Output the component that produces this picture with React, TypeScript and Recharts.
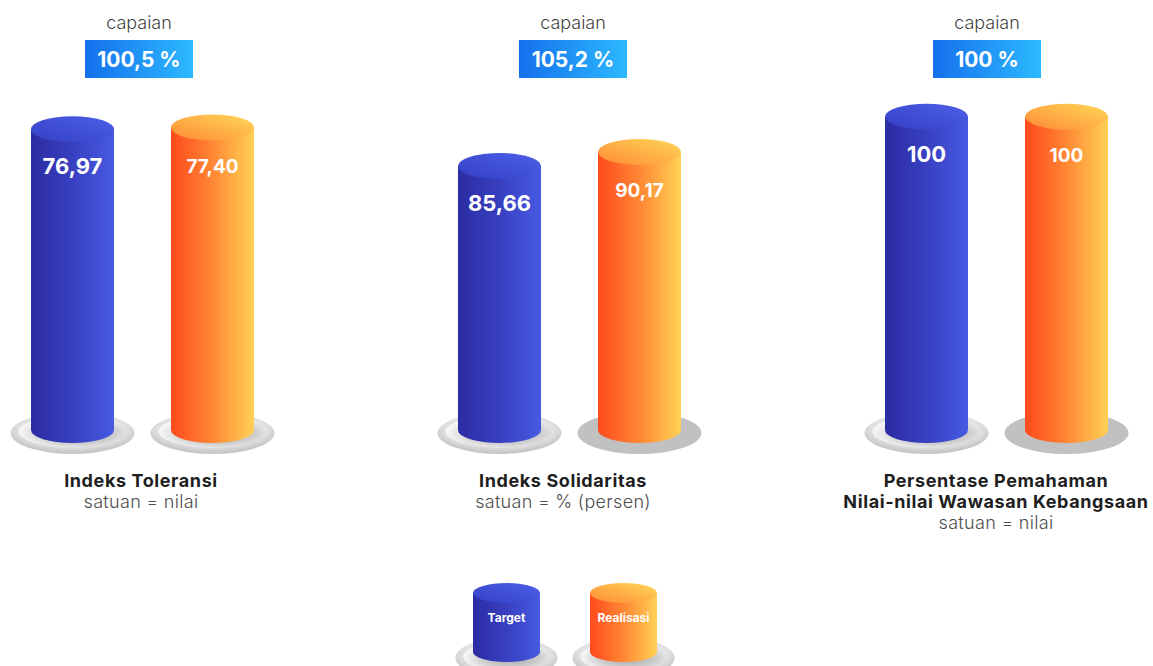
import React from "react";
import { BarChart, Bar, XAxis, YAxis, LabelList, Legend } from "recharts";

const TITLE_LINES = [
  ["Indeks Toleransi"],
  ["Indeks Solidaritas"],
  ["Persentase Pemahaman", "Nilai-nilai Wawasan Kebangsaan"],
];
const UNITS = ["satuan = nilai", "satuan = % (persen)", "satuan = nilai"];
const TARGET = [76.97, 85.66, 100];
const REALISASI = [77.4, 90.17, 100];
const CAPAIAN = [100.5, 105.2, 100];
// every indicator has its own scale in the original
const AXIS_MAX = [87, 110.3, 108.5];

const SERIES = [
  { key: "target", name: "Target", tone: "blue" as const },
  { key: "realisasi", name: "Realisasi", tone: "orange" as const },
];

// --- layout ---
const W = 1153;
const H = 666;
const CHART_W = 340;
const GROUP_CX = [141.5, 568.5, 995.5];
const CAPAIAN_DX = [-2.5, 4.5, -8.5];
const TITLE_DX = [-1, -6, 0];
// orange plates under the 2nd and 3rd group are plain grey
const FLAT_PLATE = [
  [false, false],
  [false, true],
  [false, true],
];

const BOLD_FONT = "Inter, 'Open Sans', sans-serif";
const LIGHT_FONT = "Inter, 'Open Sans', sans-serif";

type Tone = "blue" | "orange";

const fmt = (v: number) =>
  Number.isInteger(v) ? String(v) : v.toFixed(2).replace(".", ",");
const fmtPct = (v: number) =>
  (Number.isInteger(v) ? String(v) : v.toFixed(1).replace(".", ",")) + " %";

function Gradients({ id }: { id: string }) {
  return (
    <defs>
      <linearGradient id={`${id}-blue-body`} x1="0" y1="0" x2="1" y2="0">
        <stop offset="0" stopColor="#2c2ca2" />
        <stop offset="0.5" stopColor="#3840c0" />
        <stop offset="1" stopColor="#465ae3" />
      </linearGradient>
      <linearGradient id={`${id}-blue-top`} x1="0" y1="1" x2="1" y2="0">
        <stop offset="0" stopColor="#3540c4" />
        <stop offset="1" stopColor="#4b60e8" />
      </linearGradient>
      <linearGradient id={`${id}-orange-body`} x1="0" y1="0" x2="1" y2="0">
        <stop offset="0" stopColor="#ff4a1c" />
        <stop offset="0.5" stopColor="#ff8734" />
        <stop offset="1" stopColor="#ffd155" />
      </linearGradient>
      <linearGradient id={`${id}-orange-top`} x1="0" y1="1" x2="1" y2="0">
        <stop offset="0" stopColor="#ff8a35" />
        <stop offset="1" stopColor="#ffd758" />
      </linearGradient>
      <radialGradient id={`${id}-plate`} cx="0.5" cy="0.4" r="0.55">
        <stop offset="0" stopColor="#f2f2f2" />
        <stop offset="0.8" stopColor="#e0e0e0" />
        <stop offset="1" stopColor="#c8c8c8" />
      </radialGradient>
      <radialGradient id={`${id}-dish`} cx="0.56" cy="0.55" r="0.55">
        <stop offset="0" stopColor="#a8a8a8" />
        <stop offset="0.6" stopColor="#cdcdcd" />
        <stop offset="1" stopColor="#f6f6f6" />
      </radialGradient>
    </defs>
  );
}

function Plate(p: { cx: number; cy: number; rx: number; ry: number; flat: boolean; gid: string }) {
  if (p.flat) {
    return <ellipse cx={p.cx} cy={p.cy} rx={p.rx} ry={p.ry} fill="#c1c1c1" />;
  }
  return (
    <g>
      <ellipse cx={p.cx} cy={p.cy} rx={p.rx} ry={p.ry} fill={`url(#${p.gid}-plate)`} />
      <ellipse
        cx={p.cx}
        cy={p.cy - 1.5}
        rx={p.rx - 8}
        ry={p.ry - 5}
        fill={`url(#${p.gid}-dish)`}
      />
    </g>
  );
}

function Cylinder(p: { cx: number; top: number; bottom: number; rx: number; ry: number; tone: Tone; gid: string }) {
  const { cx, top, bottom, rx, ry } = p;
  const d = `M${cx - rx},${top} L${cx - rx},${bottom} A${rx},${ry} 0 0 0 ${cx + rx},${bottom} L${cx + rx},${top} Z`;
  return (
    <g>
      <path d={d} fill={`url(#${p.gid}-${p.tone}-body)`} />
      <ellipse cx={cx} cy={top} rx={rx} ry={ry} fill={`url(#${p.gid}-${p.tone}-top)`} />
    </g>
  );
}

const makeShape = (tone: Tone, flat: boolean, gid: string) => (props: any) => {
  const x = Number(props.x ?? 0);
  const y = Number(props.y ?? 0);
  const w = Number(props.width ?? 0);
  const h = Number(props.height ?? 0);
  const cx = x + w / 2;
  return (
    <g>
      <Plate cx={cx} cy={y + h + 3} rx={w / 2 + 20.5} ry={21} flat={flat} gid={gid} />
      <Cylinder cx={cx} top={y} bottom={y + h} rx={w / 2} ry={13} tone={tone} gid={gid} />
    </g>
  );
};

const makeLabel = (size: number) => (props: any) => {
  const x = Number(props.x ?? 0);
  const y = Number(props.y ?? 0);
  const w = Number(props.width ?? 0);
  return (
    <text
      x={x + w / 2}
      y={y + 45}
      textAnchor="middle"
      fill="#ffffff"
      fontSize={size}
      fontWeight={700}
      fontFamily={BOLD_FONT}
    >
      {fmt(Number(props.value))}
    </text>
  );
};

const makeTick = (i: number) => (props: any) => {
  const x = Number(props.x ?? 0) + TITLE_DX[i];
  const y = Number(props.y ?? 0);
  const lines = TITLE_LINES[i];
  return (
    <g>
      {lines.map((line, k) => (
        <text
          key={k}
          x={x}
          y={y + 57 + k * 21}
          textAnchor="middle"
          fontFamily={BOLD_FONT}
          fontWeight={700}
          fontSize={18}
          letterSpacing={0.6}
          fill="#1e1e1e"
        >
          {line}
        </text>
      ))}
      <text
        x={x}
        y={y + 57 + lines.length * 21}
        textAnchor="middle"
        fontFamily={LIGHT_FONT}
        fontWeight={300}
        fontSize={18}
        letterSpacing={0.3}
        fill="#4d4d4d"
      >
        {UNITS[i]}
      </text>
    </g>
  );
};

const renderLegend = (props: any) => {
  const payload: any[] = props.payload ?? [];
  return (
    <svg width={CHART_W} height={90} style={{ display: "block", overflow: "visible" }}>
      <Gradients id="lg" />
      {payload.map((entry) => {
        const k = SERIES.findIndex((s) => s.key === entry.dataKey);
        const s = SERIES[k];
        if (!s) return null;
        const cx = 107.5 + k * 117;
        return (
          <g key={s.key}>
            <Plate cx={cx} cy={82} rx={51} ry={20} flat={false} gid="lg" />
            <Cylinder cx={cx} top={17} bottom={76} rx={33.5} ry={10} tone={s.tone} gid="lg" />
            <text
              x={cx}
              y={46}
              textAnchor="middle"
              fill="#ffffff"
              fontSize={12}
              fontWeight={700}
              fontFamily={BOLD_FONT}
            >
              {s.name}
            </text>
          </g>
        );
      })}
    </svg>
  );
};

function Group({ i }: { i: number }) {
  const gid = `g${i}`;
  const data = [
    { name: TITLE_LINES[i].join(" "), target: TARGET[i], realisasi: REALISASI[i] },
  ];
  return (
    <div style={{ position: "absolute", left: GROUP_CX[i] - CHART_W / 2, top: 0 }}>
      <BarChart
        width={CHART_W}
        height={H}
        data={data}
        margin={{ top: 90, right: 0, bottom: 0, left: 0 }}
        barGap={57}
      >
        <Gradients id={gid} />
        <XAxis
          dataKey="name"
          height={236}
          axisLine={false}
          tickLine={false}
          tickSize={0}
          tickMargin={0}
          interval={0}
          tick={makeTick(i)}
        />
        <YAxis hide domain={[0, AXIS_MAX[i]]} />
        {SERIES.map((s, k) => (
          <Bar
            key={s.key}
            dataKey={s.key}
            name={s.name}
            fill={s.tone === "blue" ? "#3a45cc" : "#ff8a35"}
            barSize={83}
            isAnimationActive={false}
            shape={makeShape(s.tone, FLAT_PLATE[i][k], gid)}
          >
            <LabelList dataKey={s.key} content={makeLabel(k === 0 ? 22 : 19)} />
          </Bar>
        ))}
        {i === 1 && (
          <Legend
            layout="horizontal"
            verticalAlign="middle"
            align="center"
            width={CHART_W}
            height={90}
            wrapperStyle={{ top: 576, left: 0 }}
            content={renderLegend}
          />
        )}
      </BarChart>
    </div>
  );
}

export default function App() {
  return (
    <div
      style={{
        position: "absolute",
        left: 0,
        top: 0,
        width: W,
        height: H,
        overflow: "hidden",
        background: "#ffffff",
      }}
    >
      {GROUP_CX.map((_, i) => (
        <Group key={i} i={i} />
      ))}
      <svg
        width={W}
        height={90}
        style={{ position: "absolute", left: 0, top: 0, pointerEvents: "none" }}
      >
        <defs>
          <linearGradient id="capaian-bg" x1="0" y1="0" x2="1" y2="0">
            <stop offset="0" stopColor="#1570ec" />
            <stop offset="1" stopColor="#2cb9ff" />
          </linearGradient>
        </defs>
        {CAPAIAN.map((c, i) => {
          const cx = GROUP_CX[i] + CAPAIAN_DX[i];
          return (
            <g key={i}>
              <text
                x={cx}
                y={29}
                textAnchor="middle"
                fontFamily={LIGHT_FONT}
                fontWeight={300}
                fontSize={18}
                fill="#444444"
              >
                capaian
              </text>
              <rect x={cx - 54} y={40} width={108} height={38} fill="url(#capaian-bg)" />
              <text
                x={cx}
                y={67}
                textAnchor="middle"
                fontFamily={BOLD_FONT}
                fontWeight={700}
                fontSize={21}
                fill="#ffffff"
              >
                {fmtPct(c)}
              </text>
            </g>
          );
        })}
      </svg>
    </div>
  );
}
